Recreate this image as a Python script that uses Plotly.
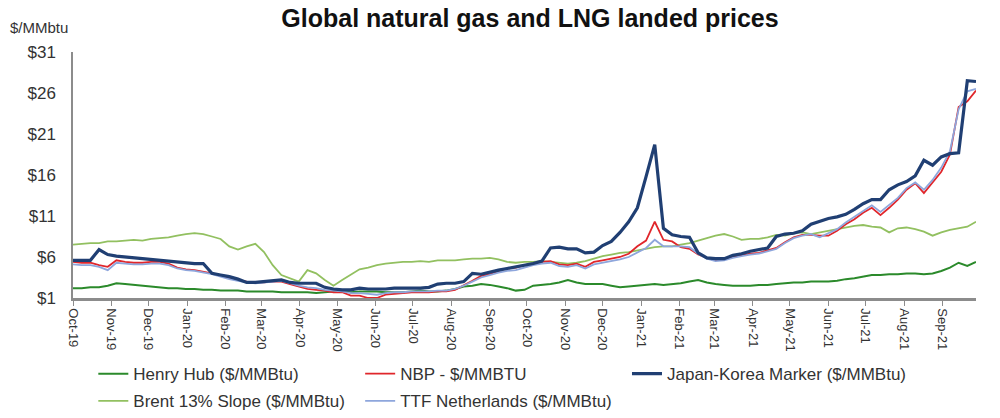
import pandas as pd
import plotly.graph_objects as go

# weekly observations, Oct 2019 - Sep 2021
dates = pd.date_range("2019-10-01", periods=105, freq="7D")

henry_hub = [2.2, 2.2, 2.3, 2.3, 2.5,
             2.8, 2.7, 2.6, 2.5,
             2.4, 2.3, 2.2, 2.2, 2.1,
             2.1, 2.0, 2.0, 1.9,
             1.9, 1.9, 1.8, 1.8,
             1.8, 1.8, 1.7, 1.7, 1.7,
             1.7, 1.6, 1.7, 1.8,
             1.8, 1.7, 1.8, 1.8,
             1.8, 1.7, 1.7, 1.7, 1.8,
             1.9, 1.8, 1.8, 1.9,
             2.1, 2.4, 2.5, 2.7,
             2.6, 2.4, 2.2, 1.9, 2.0,
             2.5, 2.6, 2.7, 2.9,
             3.2, 2.9, 2.7, 2.7,
             2.7, 2.5, 2.3, 2.4, 2.5,
             2.6, 2.7, 2.6, 2.7,
             2.8, 3.0, 3.2, 2.9,
             2.7, 2.6, 2.5, 2.5, 2.5,
             2.6, 2.6, 2.7, 2.8,
             2.9, 2.9, 3.0, 3.0,
             3.0, 3.1, 3.3, 3.4, 3.6,
             3.8, 3.8, 3.9, 3.9,
             4.0, 4.0, 3.9, 4.0, 4.3,
             4.7, 5.3, 4.9, 5.4]

nbp = [5.4, 5.3, 5.3, 5.0, 4.8,
       5.6, 5.4, 5.3, 5.3,
       5.4, 5.4, 5.2, 4.7, 4.5,
       4.4, 4.2, 4.0, 3.7,
       3.5, 3.2, 3.0, 2.9,
       2.9, 3.0, 3.0, 2.7, 2.4,
       2.1, 2.0, 1.9, 1.7,
       1.7, 1.3, 1.3, 1.0,
       1.0, 1.4, 1.5, 1.6, 1.7,
       1.7, 1.7, 1.8, 1.8,
       2.0, 2.5, 3.1, 3.7,
       3.9, 4.3, 4.6, 4.7, 5.0,
       5.2, 5.4, 5.5, 5.1,
       5.0, 5.2, 4.8, 5.4,
       5.6, 5.8, 6.0, 6.4, 7.3,
       8.0, 10.3, 8.1, 7.9,
       7.2, 7.0, 6.3, 5.9,
       5.6, 5.8, 6.0, 6.2, 6.4,
       6.5, 6.8, 7.1, 7.8,
       8.4, 8.7, 8.7, 8.6,
       8.6, 9.2, 10.0, 10.6, 11.4,
       12.0, 11.1, 12.0, 13.0,
       14.2, 15.0, 13.8, 15.1, 16.4,
       18.5, 24.3, 25.0, 26.3]

jkm = [5.6, 5.6, 5.6, 6.9, 6.3,
       6.1, 6.0, 5.9, 5.8,
       5.7, 5.6, 5.5, 5.4, 5.3,
       5.2, 5.2, 4.0, 3.8,
       3.6, 3.3, 2.9, 2.9,
       3.0, 3.1, 3.2, 2.9, 2.8,
       2.8, 2.8, 2.3, 2.1,
       2.0, 2.0, 2.2, 2.1,
       2.1, 2.1, 2.2, 2.2, 2.2,
       2.2, 2.3, 2.7, 2.8,
       2.8, 3.0, 4.0, 3.9,
       4.2, 4.4, 4.6, 4.8, 5.0,
       5.2, 5.5, 7.1, 7.2,
       7.0, 7.0, 6.5, 6.6,
       7.4, 7.9, 9.0, 10.3, 12.0,
       15.8, 19.7, 9.5, 8.7,
       8.5, 8.4, 6.5, 5.9,
       5.8, 5.8, 6.2, 6.4, 6.7,
       6.9, 7.1, 8.5, 8.8,
       8.9, 9.2, 10.0, 10.4,
       10.7, 10.9, 11.2, 11.8, 12.5,
       13.0, 13.0, 14.2, 14.8,
       15.2, 15.9, 17.8, 17.2, 18.2,
       18.6, 18.7, 27.5, 27.4]

brent = [7.5, 7.6, 7.7, 7.7, 7.9,
         7.9, 8.0, 8.1, 8.0,
         8.2, 8.3, 8.4, 8.6, 8.8,
         8.9, 8.8, 8.5, 8.2,
         7.3, 6.9, 7.3, 7.6,
         6.6, 5.0, 3.8, 3.4, 3.0,
         4.4, 4.0, 3.2, 2.5,
         3.2, 3.9, 4.5, 4.7,
         5.0, 5.2, 5.3, 5.4, 5.4,
         5.5, 5.4, 5.6, 5.6,
         5.6, 5.7, 5.8, 5.8,
         5.9, 5.7, 5.4, 5.3, 5.4,
         5.4, 5.5, 5.4, 5.3,
         5.2, 5.3, 5.5, 5.8,
         6.1, 6.3, 6.5, 6.6, 6.8,
         7.0, 7.2, 7.3, 7.3,
         7.5, 7.7, 8.0, 8.3,
         8.6, 8.8, 8.5, 8.1, 8.2,
         8.2, 8.4, 8.7, 8.6,
         8.9, 9.0, 8.8, 9.0,
         9.2, 9.4, 9.6, 9.8, 9.9,
         9.7, 9.6, 9.0, 9.5,
         9.6, 9.4, 9.1, 8.6, 9.0,
         9.3, 9.5, 9.7, 10.3]

ttf = [5.1, 5.0, 5.0, 4.8, 4.4,
       5.3, 5.2, 5.1, 5.1,
       5.2, 5.2, 5.0, 4.6, 4.4,
       4.3, 4.1, 3.9, 3.6,
       3.3, 3.1, 2.9, 2.8,
       2.9, 3.0, 3.1, 2.8, 2.5,
       2.3, 2.2, 2.0, 1.9,
       1.8, 1.6, 1.6, 1.5,
       1.4, 1.6, 1.7, 1.7, 1.8,
       1.8, 1.8, 1.9, 1.9,
       2.1, 2.5, 3.0, 3.5,
       3.8, 4.1, 4.3, 4.4, 4.7,
       5.0, 5.2, 5.3, 4.9,
       4.8, 5.0, 4.6, 5.1,
       5.3, 5.5, 5.7, 6.0, 6.6,
       7.1, 8.1, 7.3, 7.3,
       7.3, 7.2, 6.4, 5.8,
       5.5, 5.6, 5.9, 6.1, 6.3,
       6.4, 6.7, 7.0, 7.7,
       8.3, 8.6, 8.8, 8.4,
       8.9, 9.4, 10.2, 10.9, 11.6,
       12.3, 11.5, 12.3, 13.2,
       14.4, 15.1, 14.2, 15.4, 16.9,
       18.9, 24.0, 26.2, 26.5]

# name, values, colour, width, legend column ; JKM drawn last so it sits on top
series = [
    ("Henry Hub ($/MMBtu)", henry_hub, "#2b8a2b", 2, "legend"),
    ("Brent 13% Slope ($/MMBtu)", brent, "#92c060", 1.8, "legend"),
    ("NBP - $/MMBTU", nbp, "#e0262b", 1.8, "legend2"),
    ("TTF Netherlands ($/MMBtu)", ttf, "#8ea6dc", 1.8, "legend2"),
    ("Japan-Korea Marker ($/MMBtu)", jkm, "#203f73", 3.2, "legend3"),
]

fig = go.Figure()
for name, vals, color, w, leg in series:
    fig.add_trace(go.Scatter(x=dates, y=vals, name=name, mode="lines",
                             line=dict(color=color, width=w), legend=leg,
                             legendgroup=name))

leg_style = dict(orientation="v", xanchor="left", yref="container", y=0.148,
                 yanchor="top", itemwidth=30, traceorder="grouped", tracegroupgap=2,
                 font=dict(size=17, color="#333333"), bgcolor="rgba(0,0,0,0)")

fig.update_layout(
    width=1000, height=418,
    margin=dict(l=73, r=24, t=52, b=120, autoexpand=False),
    paper_bgcolor="white", plot_bgcolor="white",
    font=dict(family="Liberation Sans, Arial, sans-serif", color="#333333"),
    title=dict(text="<b>Global natural gas and LNG landed prices</b>",
               x=0.53, xanchor="center", y=0.957, yanchor="middle",
               font=dict(size=25, color="#111111")),
    showlegend=True,
    legend=dict(x=0.0225, **leg_style),
    legend2=dict(x=0.318, **leg_style),
    legend3=dict(x=0.6135, **leg_style),
    annotations=[dict(text="$/MMbtu", xref="paper", yref="paper",
                      x=-0.072, y=1.098, xanchor="left", yanchor="middle",
                      showarrow=False, font=dict(size=15, color="#333333"))],
)

fig.update_xaxes(range=["2019-10-01", "2021-09-28"], dtick="M1", tick0="2019-10-01",
                 tickformat="%b-%y", tickangle=90, showgrid=False, automargin=False,
                 showline=True, linecolor="#8c8c8c", linewidth=2.5,
                 ticks="outside", ticklen=5, tickcolor="#8c8c8c",
                 tickfont=dict(size=13, color="#333333"))
fig.update_yaxes(range=[1, 31], dtick=5, tick0=1, tickprefix="$", showgrid=False,
                 automargin=False, zeroline=False, showline=True,
                 linecolor="#8c8c8c", linewidth=1.5,
                 tickfont=dict(size=17, color="#333333"), ticklabelstandoff=12)

# page body has a default 8px margin; drop it so the figure fills the window
fig.write_html("out.html", config={"displayModeBar": False},
               post_script="document.body.style.margin='0';")
